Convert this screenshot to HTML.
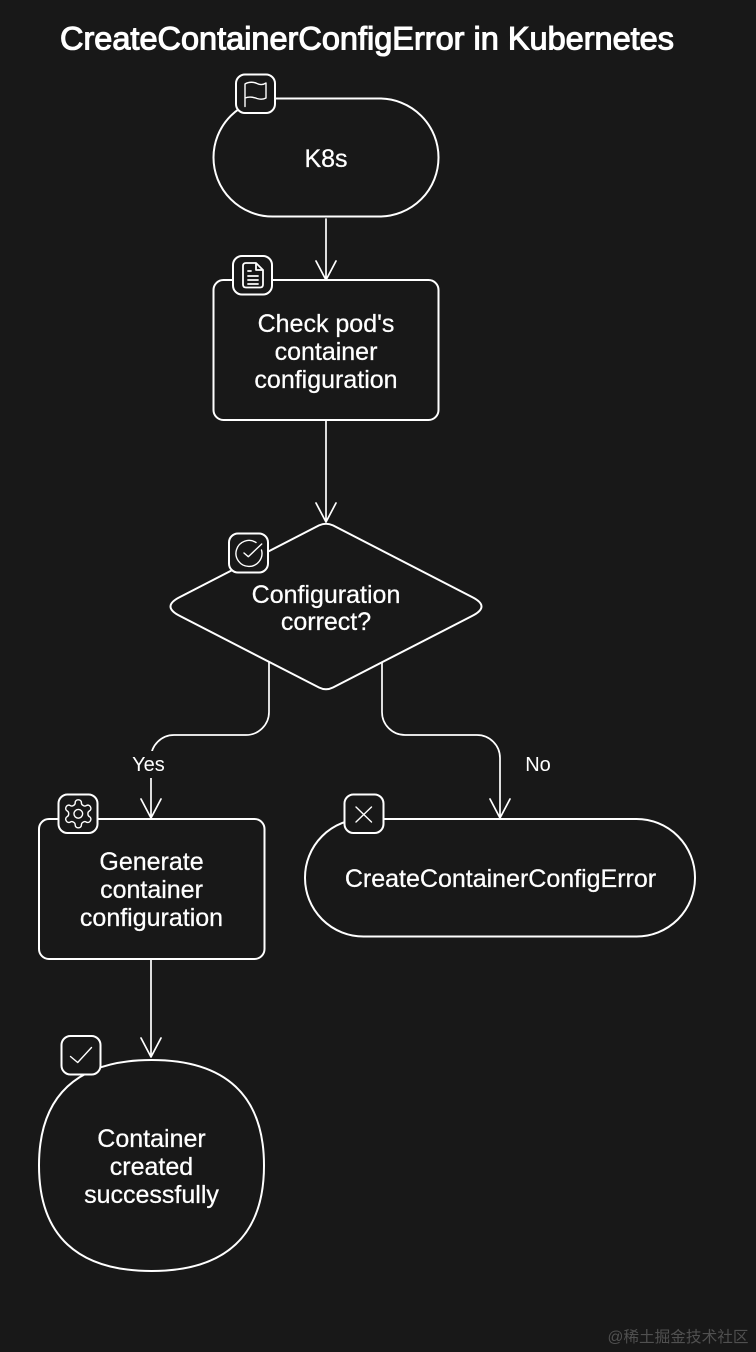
<!DOCTYPE html>
<html><head><meta charset="utf-8"><style>
html,body{margin:0;padding:0;background:#181818}
svg{display:block}
text{font-family:"Liberation Sans","Noto Sans CJK SC",sans-serif;fill:#fff;text-anchor:middle}
.s{fill:none;stroke:#fff;stroke-width:1.7;stroke-linecap:round;stroke-linejoin:round}
.n{fill:#181818;stroke:#fff;stroke-width:2}
.i{fill:none;stroke:#fff;stroke-width:1.4;stroke-linecap:round;stroke-linejoin:round}
.t{font-size:25px;stroke:#fff;stroke-width:.25}
</style></head><body>
<svg width="756" height="1352" viewBox="0 0 756 1352" xmlns="http://www.w3.org/2000/svg">
<rect width="756" height="1352" fill="#181818"/>
<text x="367" y="49.500" font-size="32.500" stroke="#fff" stroke-width="1.100" textLength="614" lengthAdjust="spacingAndGlyphs">CreateContainerConfigError in Kubernetes</text>

<!-- connectors -->
<path class="s" d="M326 219V279M316 261L326 280L336 261"/>
<path class="s" d="M326 420V522M316 503L326 522L336 503"/>
<path class="s" d="M269 655V712A23 23 0 0 1 246 735H174A23 23 0 0 0 151 758V818M141 799L151 818L161 799"/>
<path class="s" d="M382 655V712A23 23 0 0 0 405 735H477A23 23 0 0 1 500 758V818M490 799L500 818L510 799"/>
<path class="s" d="M151 959V1057M141 1038L151 1057L161 1038"/>
<rect x="130" y="751" width="38" height="27" fill="#181818"/>

<!-- nodes -->
<rect class="n" x="213.500" y="98.500" width="225" height="118" rx="59"/>
<rect class="n" x="213.500" y="280" width="225" height="140" rx="10"/>
<path class="n" d="M319 525.400Q326 522 333 525.400L472 597Q491 606.500 472 616L333 687.500Q326 691 319 687.500L180 616Q161 606.500 180 597Z"/>
<rect class="n" x="39" y="819" width="225.500" height="140" rx="10"/>
<rect class="n" x="305" y="819" width="390" height="117.500" rx="58.500"/>
<path class="n" d="M151.500 1060C225.500 1060 264 1095.500 264 1165.500C264 1235.500 225.500 1271 151.500 1271C77.500 1271 39 1235.500 39 1165.500C39 1095.500 77.500 1060 151.500 1060Z"/>

<!-- labels -->
<text class="t" x="326" y="167">K8s</text>
<text class="t" x="326" y="332">Check pod's</text>
<text class="t" x="326" y="360">container</text>
<text class="t" x="326" y="388">configuration</text>
<text class="t" x="326" y="603">Configuration</text>
<text class="t" x="326" y="630">correct?</text>
<text class="t" x="151.500" y="870">Generate</text>
<text class="t" x="151.500" y="898">container</text>
<text class="t" x="151.500" y="926">configuration</text>
<text class="t" x="500.500" y="887">CreateContainerConfigError</text>
<text class="t" x="151.500" y="1147">Container</text>
<text class="t" x="151.500" y="1175">created</text>
<text class="t" x="151.500" y="1203">successfully</text>
<text x="148.500" y="771" font-size="20">Yes</text>
<text x="538" y="771" font-size="20">No</text>

<!-- icon boxes -->
<rect class="n" x="236" y="74.500" width="39" height="38.500" rx="9"/>
<path class="i" d="M245 106.500V84C249 81.500 254 82 257 83.500C260 85 263 85 266 83V98C263 99.500 260 99.500 257 98.500C253 97 249 96.500 245 98"/>

<rect class="n" x="233" y="256" width="39" height="38.500" rx="9"/>
<path class="i" style="stroke-width:1.800" d="M246 263H256L263 270V284.500Q263 287.500 260 287.500H246Q243 287.500 243 284.500V266Q243 263 246 263ZM256 263V270H263M248 271H251M248 276H258M248 280H258M248 284H258"/>

<rect class="n" x="229" y="533.500" width="39" height="39" rx="9"/>
<path class="i" d="M261.500 550A13 13 0 1 1 256 542.500"/>
<path class="i" d="M244 553L248.300 556.700L261.700 544"/>

<rect class="n" x="58.500" y="794.500" width="39" height="38.500" rx="9"/>
<g transform="translate(61.500 797) scale(1.400)"><path class="i" style="stroke-width:1" d="M12.220 2h-.44a2 2 0 0 0-2 2v.18a2 2 0 0 1-1 1.730l-.43.25a2 2 0 0 1-2 0l-.15-.08a2 2 0 0 0-2.730.73l-.22.38a2 2 0 0 0 .73 2.730l.15.1a2 2 0 0 1 1 1.720v.51a2 2 0 0 1-1 1.740l-.15.09a2 2 0 0 0-.73 2.730l.22.38a2 2 0 0 0 2.730.73l.15-.08a2 2 0 0 1 2 0l.43.25a2 2 0 0 1 1 1.730V20a2 2 0 0 0 2 2h.44a2 2 0 0 0 2-2v-.18a2 2 0 0 1 1-1.730l.43-.25a2 2 0 0 1 2 0l.15.08a2 2 0 0 0 2.730-.73l.22-.39a2 2 0 0 0-.73-2.730l-.15-.08a2 2 0 0 1-1-1.740v-.5a2 2 0 0 1 1-1.740l.15-.09a2 2 0 0 0 .73-2.730l-.22-.38a2 2 0 0 0-2.730-.73l-.15.08a2 2 0 0 1-2 0l-.43-.25a2 2 0 0 1-1-1.730V4a2 2 0 0 0-2-2z"/><circle class="i" style="stroke-width:1" cx="12" cy="12" r="3.100"/></g>

<rect class="n" x="344.500" y="794.500" width="39" height="38.500" rx="9"/>
<path class="i" d="M356 807L371.500 822M371.500 807L356 822"/>

<rect class="n" x="61.500" y="1036" width="39" height="38.500" rx="9"/>
<path class="i" d="M70.500 1056.500L77.700 1062.500L91.500 1047.500"/>

<text x="678" y="1342" font-size="15.500" style="fill:#505050" textLength="141" lengthAdjust="spacingAndGlyphs">@稀土掘金技术社区</text>
</svg>
</body></html>
